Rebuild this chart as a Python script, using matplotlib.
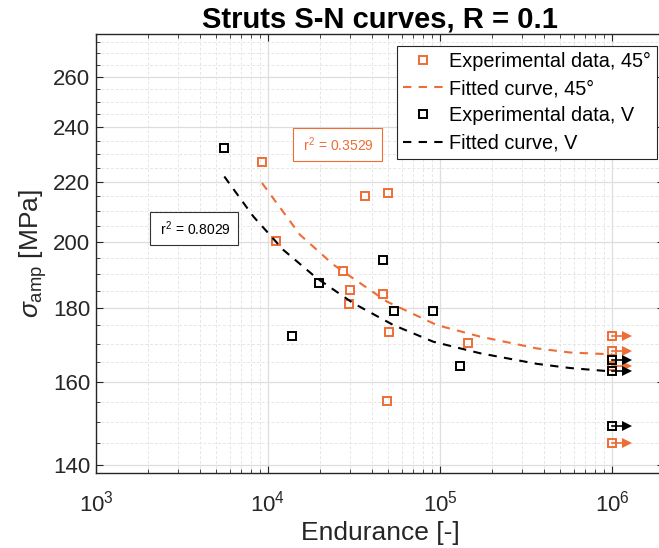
import numpy as np
import matplotlib
matplotlib.use("Agg")
import matplotlib.pyplot as plt
from matplotlib.ticker import FixedLocator, NullFormatter, LogLocator, FuncFormatter

plt.rcParams['font.family'] = ['Liberation Sans', 'DejaVu Sans']
plt.rcParams['mathtext.fontset'] = 'custom'
plt.rcParams['mathtext.rm'] = 'Liberation Sans'
plt.rcParams['mathtext.it'] = 'Liberation Sans:italic'

ORANGE = '#EE6C35'
BLACK = '#000000'

# ---- Data: 45 degree struts ----
n_45 = [9228, 11090, 27400, 29980, 29700, 36640, 50050, 46800, 50720, 48990, 144900]
s_45 = [227.1, 200.1, 191.0, 185.2, 181.1, 215.2, 216.1, 184.1, 173.1, 155.1, 170.1]
runout_n_45 = [1e6, 1e6, 1e6, 1e6]
runout_s_45 = [172.1, 168.0, 164.1, 145.0]
fit_n_45 = [9228, 15350, 23970, 48990, 95700, 170900, 364900, 570100, 1e6]
fit_s_45 = [219.6, 202.2, 192.8, 181.8, 175.1, 171.9, 168.7, 167.6, 167.1]
r2_45 = 0.3529

# ---- Data: V struts ----
n_v = [5570, 19880, 13730, 46440, 54030, 91400, 130700]
s_v = [232.2, 187.3, 172.1, 194.3, 179.1, 179.1, 164.1]
runout_n_v = [1e6, 1e6, 1e6]
runout_s_v = [165.5, 162.8, 149.1]
fit_n_v = [5570, 8214, 12270, 19200, 31330, 53530, 91430, 170900, 364900, 570100, 1e6]
fit_s_v = [221.9, 208.2, 197.4, 188.7, 181.3, 175.1, 170.5, 167.4, 164.6, 163.5, 162.6]
r2_v = 0.8029

y_major = [140, 160, 180, 200, 220, 240, 260]
y_minor = [145, 150, 155, 165, 170, 175, 185, 190, 195, 205, 210, 215,
           225, 230, 235, 245, 250, 255, 265, 270, 275]

W, H = 659, 548
fig = plt.figure(figsize=(W / 100, H / 100), dpi=100)
ax = fig.add_axes([96 / W, 1 - 473 / H, 567.8 / W, 439 / H])
ax.set_xscale('log')
ax.set_yscale('log')

ms = 6.2
mew = 1.4
arrow_factor = 1.22

# orange data
ax.plot(n_45, s_45, 's', mfc='none', mec=ORANGE, ms=ms, mew=mew,
        label='Experimental data, 45°', zorder=3)
ax.plot(fit_n_45, fit_s_45, '--', color=ORANGE, lw=1.5, dashes=(4, 3.5),
        label='Fitted curve, 45°', zorder=3)
ax.plot(runout_n_45, runout_s_45, 's', mfc='none', mec=ORANGE, ms=ms, mew=mew, zorder=3)
for n, s in zip(runout_n_45, runout_s_45):
    ax.plot([n, n * 1.14], [s, s], '-', color=ORANGE, lw=1.2, zorder=3)
    ax.plot([n * arrow_factor], [s], '>', color=ORANGE, ms=7, mew=0, zorder=3)

# black data
ax.plot(n_v, s_v, 's', mfc='none', mec=BLACK, ms=ms, mew=mew,
        label='Experimental data, V', zorder=4)
ax.plot(fit_n_v, fit_s_v, '--', color=BLACK, lw=1.5, dashes=(4, 3.5),
        label='Fitted curve, V', zorder=4)
ax.plot(runout_n_v, runout_s_v, 's', mfc='none', mec=BLACK, ms=ms, mew=mew, zorder=4)
for n, s in zip(runout_n_v, runout_s_v):
    ax.plot([n, n * 1.14], [s, s], '-', color=BLACK, lw=1.2, zorder=4)
    ax.plot([n * arrow_factor], [s], '>', color=BLACK, ms=7, mew=0, zorder=4)

ax.set_xlim(1e3, 2e6)
ax.set_ylim(138.3, 278.5)

ax.yaxis.set_major_locator(FixedLocator(y_major))
ax.yaxis.set_minor_locator(FixedLocator(y_minor))
ax.yaxis.set_major_formatter(FuncFormatter(lambda v, p: f'{v:g}'))
ax.yaxis.set_minor_formatter(NullFormatter())
ax.xaxis.set_major_locator(FixedLocator([1e3, 1e4, 1e5, 1e6]))
ax.xaxis.set_minor_locator(LogLocator(base=10, subs=np.arange(2, 10), numticks=20))
ax.xaxis.set_minor_formatter(NullFormatter())

ax.grid(True, which='major', color='#dedede', lw=0.9, zorder=0)
ax.grid(True, which='minor', color='#e6e6e6', lw=0.7, ls=(0, (3, 2)), zorder=0)
ax.set_axisbelow(True)

for sp in ax.spines.values():
    sp.set_color('#262626')
    sp.set_linewidth(1.0)

ax.tick_params(which='both', direction='in', top=True, right=True,
               colors='#262626', labelsize=16)
ax.tick_params(which='major', length=5, width=0.8)
ax.tick_params(which='minor', length=3, width=0.6)
ax.tick_params(axis='x', pad=13)
ax.tick_params(axis='y', pad=4)

ax.set_xlabel('Endurance [-]', fontsize=19, color='#262626', labelpad=3)
ax.set_ylabel(r'$\sigma_{\rm amp}$ [MPa]', fontsize=19, color='#262626', labelpad=3)
ax.set_title('Struts S-N curves, R = 0.1', fontsize=21, fontweight='bold', pad=5)

ax.text(3723, 204.3, r' r$^2$ = 0.8029 ', fontsize=10, color='black',
        ha='center', va='center', zorder=5,
        bbox=dict(boxstyle='square,pad=0.5', fc='white', ec='#333333', lw=0.8))
ax.text(25360, 233.6, r' r$^2$ = 0.3529 ', fontsize=10, color=ORANGE,
        ha='center', va='center', zorder=5,
        bbox=dict(boxstyle='square,pad=0.5', fc='white', ec=ORANGE, lw=0.8))

leg = ax.legend(loc='upper right', bbox_to_anchor=(656.7 / W, 1 - 45.7 / H),
                bbox_transform=fig.transFigure, fontsize=14.3, frameon=True,
                fancybox=False, edgecolor='#262626', framealpha=1,
                handlelength=2.0, handletextpad=0.3, labelspacing=0.42,
                borderpad=0.3, borderaxespad=0)
leg.get_frame().set_linewidth(0.8)

fig.savefig('out.png', dpi=100)
